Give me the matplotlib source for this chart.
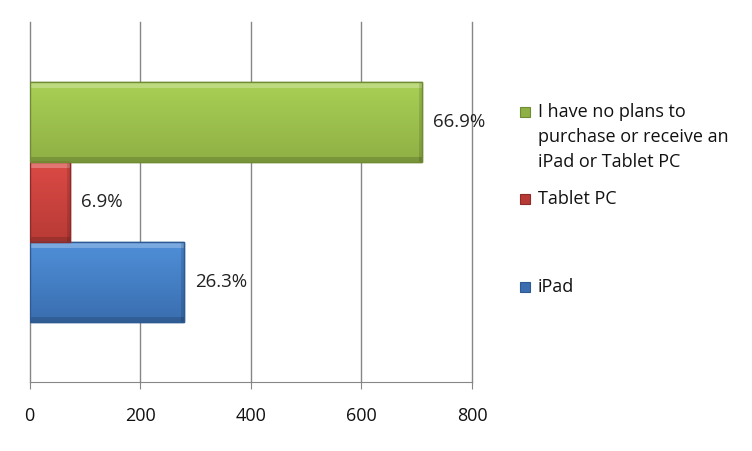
import numpy as np
import matplotlib.pyplot as plt
from matplotlib.patches import Rectangle
from matplotlib.colors import LinearSegmentedColormap

plt.rcParams['font.family'] = ['Open Sans', 'DejaVu Sans']

# data (one category, three series; bottom to top)
series = ["iPad", "Tablet PC", "I have no plans to\npurchase or receive an\niPad or Tablet PC"]
counts = [279, 73, 710]
x_ticks = [0, 200, 400, 600, 800]

# colours: top shade, bottom shade, edge
shades = [
    ("#4f8fd8", "#3a6eb0", "#2d5a92"),
    ("#db4a45", "#b83a36", "#8e2a28"),
    ("#a9d055", "#8fb045", "#6f8c33"),
]

W, H = 752, 451
fig = plt.figure(figsize=(W / 100, H / 100), dpi=100)
ax = fig.add_axes([29.5 / W, 1 - 382 / H, (472 - 29.5) / W, (382 - 22) / H])

ypos = np.arange(len(counts)) - 1
total = sum(counts)
grad = np.linspace(0, 1, 64).reshape(-1, 1)

for y, v, (top, bot, edge) in zip(ypos, counts, shades):
    bar = ax.barh(y, v, height=1.0, color=bot, edgecolor=edge, linewidth=1.0, zorder=3)[0]
    cmap = LinearSegmentedColormap.from_list("g", [top, bot])
    im = ax.imshow(grad, cmap=cmap, aspect="auto", extent=[0, v, y - 0.5, y + 0.5],
                   origin="upper", zorder=3.5)
    im.set_clip_path(bar)
    # bevel highlight and shadow
    ax.add_patch(Rectangle((0, y + 0.5 - 0.07), v, 0.07, color="white", alpha=0.25,
                           lw=0, zorder=4))
    ax.add_patch(Rectangle((0, y - 0.5), v, 0.06, color="black", alpha=0.15,
                           lw=0, zorder=4))
    ax.add_patch(Rectangle((v - 6, y - 0.5), 6, 1.0, color="black", alpha=0.12,
                           lw=0, zorder=4))
    ax.add_patch(Rectangle((0, y - 0.5), v, 1.0, fill=False, edgecolor=edge, lw=1.0,
                           zorder=5))
    ax.annotate(f"{v / total * 100:.1f}%", (v, y), xytext=(8, 0),
                textcoords="offset points", va="center", ha="left", fontsize=13.5,
                color="#222222")

ax.set_xlim(0, 800)
ax.set_ylim(-2.25, 2.25)
ax.set_xticks(x_ticks)
ax.set_xticklabels([str(t) for t in x_ticks], fontsize=13, color="#111111")
ax.set_yticks([])
ax.xaxis.grid(True, color="#868686", linewidth=1.0, zorder=0)
for gl in ax.get_xgridlines():
    gl.set_clip_on(False)
ax.set_axisbelow(True)
for s in ["top", "right", "left"]:
    ax.spines[s].set_visible(False)
ax.spines["bottom"].set_color("#868686")
ax.tick_params(axis="x", length=5, color="#868686", pad=13)

# legend, placed beside the bars; first line of each entry
leg_y = [287, 199, 112]
line_step = 25
for (top, bot, edge), name, ly in zip(shades, series, leg_y):
    fig.patches.append(Rectangle((520 / W, 1 - (ly + 5) / H), 10 / W, 10 / H,
                                 transform=fig.transFigure,
                                 facecolor=bot, edgecolor=edge, lw=0.8))
    for i, line in enumerate(name.split("\n")):
        fig.text(538 / W, 1 - (ly + i * line_step) / H, line, fontsize=13,
                 va="center", ha="left", color="#111111")

fig.savefig("out.png", dpi=100)
